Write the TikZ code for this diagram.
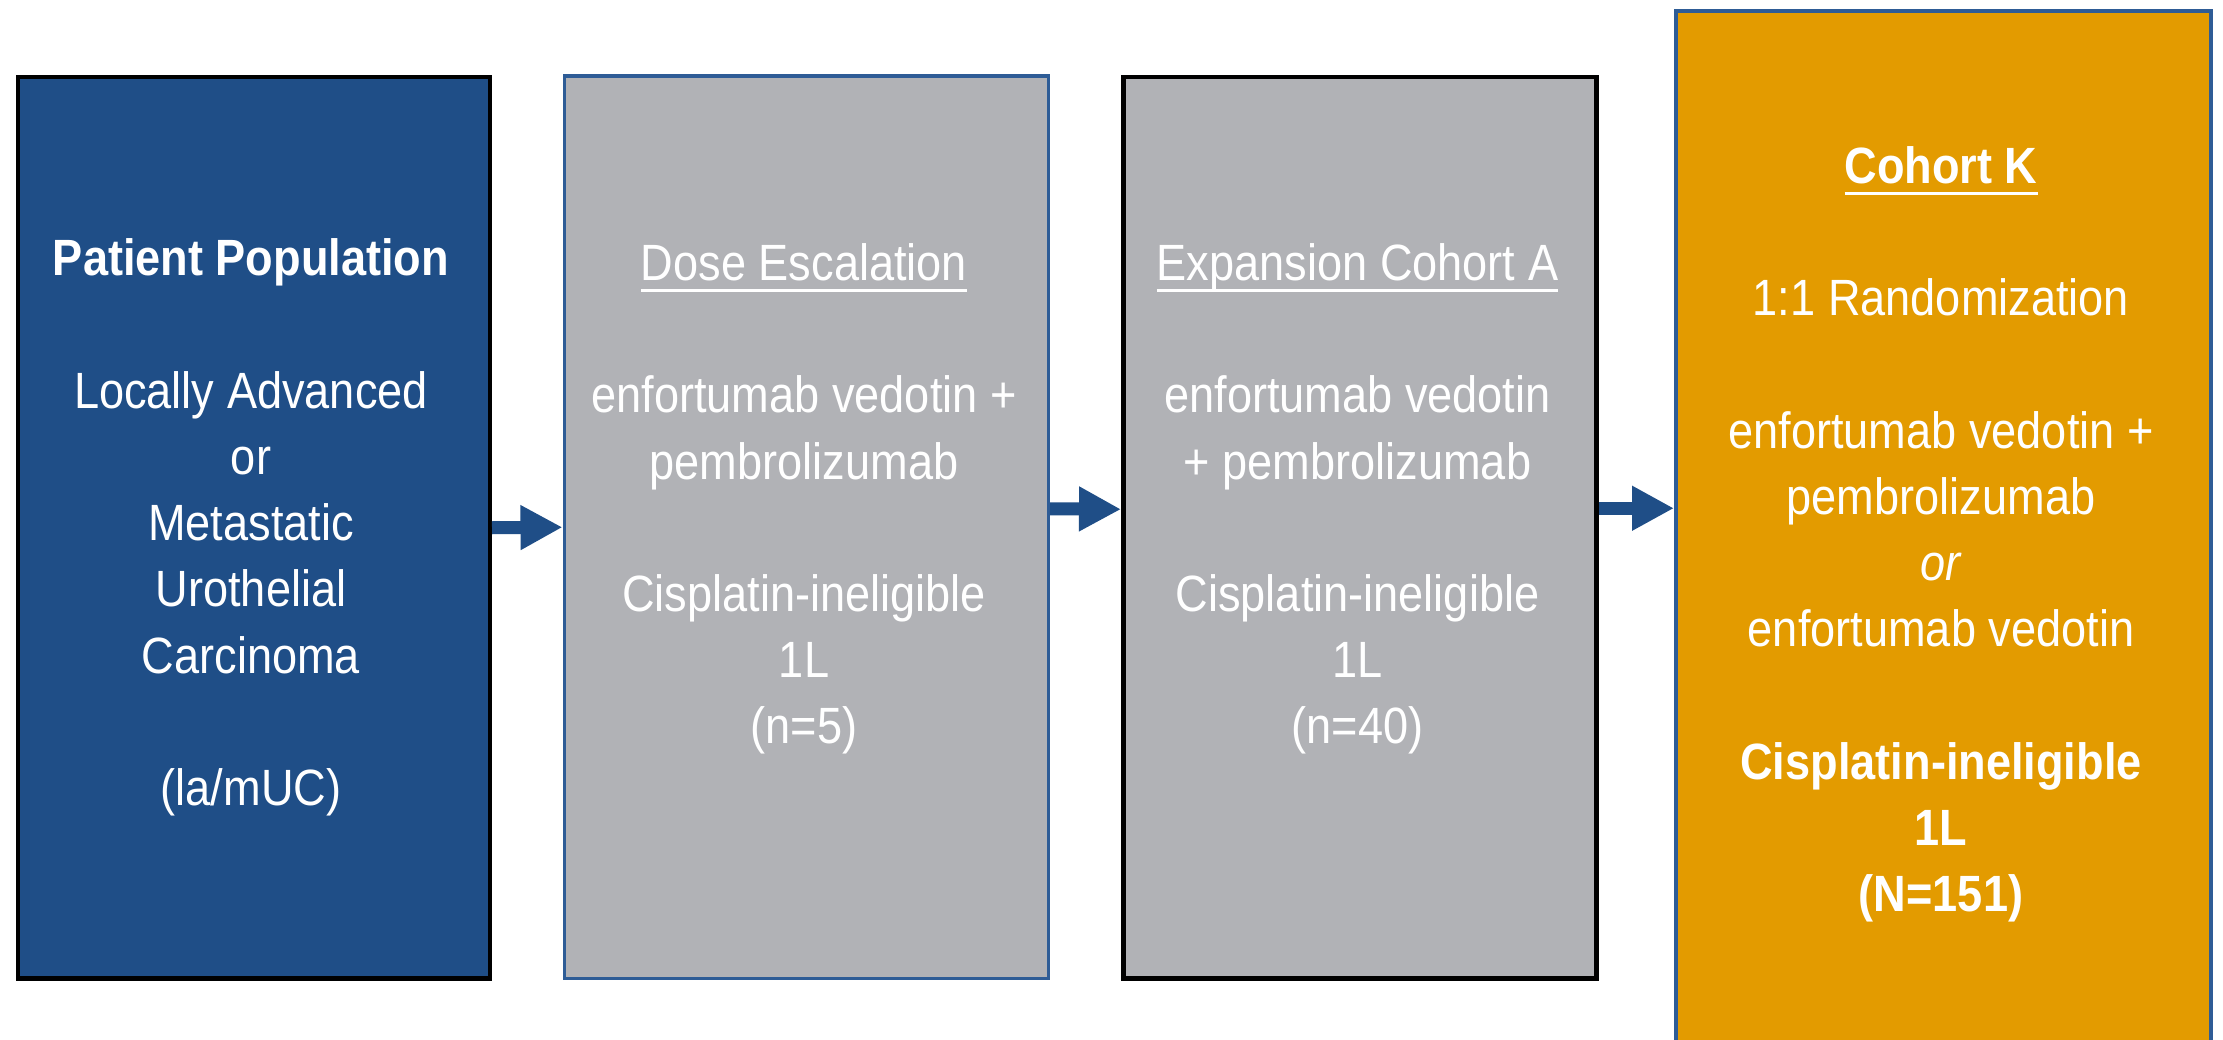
\documentclass[tikz,border=0pt]{standalone}
\usepackage{fontspec}
\setmainfont{Liberation Sans}[FakeStretch=0.885]
\usetikzlibrary{arrows.meta}
\newsavebox{\myulbox}
\newcommand\myul[1]{\sbox{\myulbox}{#1}\rlap{\rule[-11.5pt]{\wd\myulbox}{3.5pt}}\usebox{\myulbox}}
\definecolor{navy}{HTML}{1F4E87}
\definecolor{edgeblue}{HTML}{2E5C96}
\definecolor{boxgray}{HTML}{B1B2B6}
\definecolor{korange}{HTML}{E39B00}
\tikzset{
  panel/.style={rectangle, inner sep=0pt, anchor=north west},
  txt/.style={text=white, align=center, inner sep=0pt, font={\fontsize{51}{66.2}\selectfont}},
  arr/.style={draw=navy, line width=13pt, -{Triangle[length=42pt,width=42pt]}}
}
\begin{document}
\begin{tikzpicture}[x=1pt,y=-1pt]
\path[use as bounding box, fill=white] (0,0) rectangle (2223,1040);
\node[panel, fill=navy, draw=black, line width=4.5pt, minimum width=472pt, minimum height=901pt] (b1) at (15.5,75) {};
\node[panel, fill=boxgray, draw=edgeblue, line width=3.5pt, minimum width=484pt, minimum height=902pt] (b2) at (562.5,74.5) {};
\node[panel, fill=boxgray, draw=black, line width=4.5pt, minimum width=473pt, minimum height=901pt] (b3) at (1121,75) {};
\node[panel, fill=korange, draw=edgeblue, line width=3.5pt, minimum width=535pt, minimum height=1060pt] (b4) at (1674,9.5) {};

\node[txt] (t1) at (251,527.5) {\textbf{Patient Population}\\[66.2pt]
Locally Advanced\\ or\\ Metastatic\\ Urothelial\\ Carcinoma\\[66.2pt] (la/mUC)};
\node[txt] (t2) at (804,499) {\myul{Dose Escalation}\\[66.2pt]
enfortumab vedotin +\\ pembrolizumab\\[66.2pt] Cisplatin-ineligible\\ 1L\\ (n=5)};
\node[txt] (t3) at (1357.5,499) {\myul{Expansion Cohort A}\\[66.2pt]
enfortumab vedotin\\ + pembrolizumab\\[66.2pt] Cisplatin-ineligible\\ 1L\\ (n=40)};
\node[txt] (t4) at (1941,534.5) {\myul{\textbf{Cohort K}}\\[66.2pt]
1:1 Randomization\\[66.2pt] enfortumab vedotin +\\ pembrolizumab\\ \textit{or}\\ enfortumab vedotin\\[66.2pt]
\textbf{Cisplatin-ineligible}\\ \textbf{1L}\\ \textbf{(N=151)}};

\draw[arr] (b1.east) -- (b2.west);
\draw[arr] ([yshift=18.5pt]b2.east) -- ([yshift=18.5pt]b3.west);
\draw[arr] ([yshift=19.5pt]b3.east) -- ([yshift=19.5pt]b3.east -| b4.west);
\end{tikzpicture}
\end{document}
